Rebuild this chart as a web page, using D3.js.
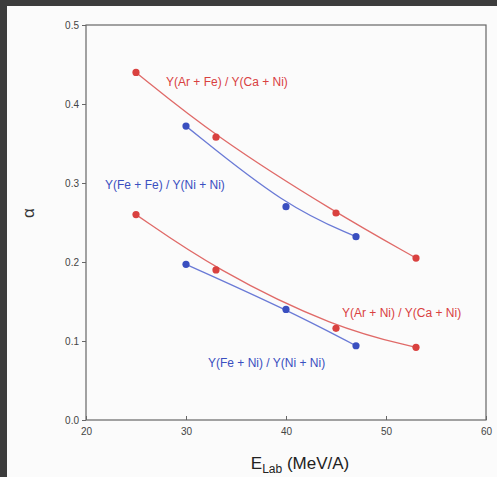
<!DOCTYPE html>
<html>
<head>
<meta charset="utf-8">
<script src="https://cdn.jsdelivr.net/npm/d3@7"></script>
<style>
  html, body { margin: 0; padding: 0; background: #3c3c3c; }
  svg { display: block; font-family: "Liberation Sans", Arial, sans-serif; }
</style>
</head>
<body>
<svg id="chart" width="497" height="477"></svg>
<script>
// energies (MeV/A) and ratio values
let arFeX = [25, 33, 45, 53]
let arFeY = [0.44, 0.358, 0.262, 0.205]
let feFeX = [30, 40, 47]
let feFeY = [0.372, 0.27, 0.232]
let arNiX = [25, 33, 45, 53]
let arNiY = [0.26, 0.19, 0.116, 0.092]
let feNiX = [30, 40, 47]
let feNiY = [0.197, 0.14, 0.094]

let xTicks = [20, 30, 40, 50, 60]
let yTicks = [0.0, 0.1, 0.2, 0.3, 0.4, 0.5]

let red = '#d9413f'
let blue = '#3a4fc0'

let svg = d3.select('#chart')

// white paper with dark scan edges at top and left
svg.append('rect')
    .attr('x', 7).attr('y', 6)
    .attr('width', 490).attr('height', 471)
    .attr('fill', '#fbfbfb')

let x = d3.scaleLinear().domain([20, 60]).range([86, 486])
let y = d3.scaleLinear().domain([0, 0.5]).range([420, 25])

// frame
svg.append('rect')
    .attr('x', x(20)).attr('y', y(0.5))
    .attr('width', x(60) - x(20)).attr('height', y(0) - y(0.5))
    .attr('fill', 'none')
    .attr('stroke', '#666')
    .attr('stroke-width', 1.2)

let xAxis = svg.append('g')
    .attr('transform', 'translate(0,' + y(0) + ')')
    .call(d3.axisBottom(x).tickValues(xTicks).tickSizeInner(-4).tickSizeOuter(0).tickPadding(8))
xAxis.select('.domain').remove()
xAxis.selectAll('line').attr('stroke', '#666')
xAxis.selectAll('text').attr('font-size', 10).attr('fill', '#444')
    .attr('font-family', '"Liberation Sans", Arial, sans-serif')

let yAxis = svg.append('g')
    .attr('transform', 'translate(' + x(20) + ',0)')
    .call(d3.axisLeft(y).tickValues(yTicks).tickFormat(d3.format('.1f')).tickSizeInner(4).tickSizeOuter(0).tickPadding(3))
yAxis.select('.domain').remove()
yAxis.selectAll('line').attr('stroke', '#666')
yAxis.selectAll('text').attr('font-size', 10).attr('fill', '#444')
    .attr('font-family', '"Liberation Sans", Arial, sans-serif')

// smooth fitted curves
let line = d3.line()
    .x((d) => x(d[0]))
    .y((d) => y(d[1]))
    .curve(d3.curveBasis)

let series = [
    { xs: arFeX, ys: arFeY, color: red, line: '#e06a68' },
    { xs: feFeX, ys: feFeY, color: blue, line: '#6a7ad6' },
    { xs: arNiX, ys: arNiY, color: red, line: '#e06a68' },
    { xs: feNiX, ys: feNiY, color: blue, line: '#6a7ad6' }
]

series.forEach((s) => {
    let pts = s.xs.map((v, i) => [v, s.ys[i]])
    svg.append('path')
        .attr('d', line(pts))
        .attr('fill', 'none')
        .attr('stroke', s.line)
        .attr('stroke-width', 1.3)
    svg.selectAll(null)
        .data(pts)
        .enter()
        .append('circle')
        .attr('cx', (d) => x(d[0]))
        .attr('cy', (d) => y(d[1]))
        .attr('r', 3.6)
        .attr('fill', s.color)
})

let labels = [
    { text: 'Y(Ar + Fe) / Y(Ca + Ni)', x: 166, y: 86, color: red },
    { text: 'Y(Fe + Fe) / Y(Ni + Ni)', x: 105, y: 189, color: blue },
    { text: 'Y(Ar + Ni) / Y(Ca + Ni)', x: 342, y: 317, color: red },
    { text: 'Y(Fe + Ni) / Y(Ni + Ni)', x: 208, y: 367, color: blue }
]

svg.selectAll(null)
    .data(labels)
    .enter()
    .append('text')
    .attr('x', (d) => d.x)
    .attr('y', (d) => d.y)
    .attr('fill', (d) => d.color)
    .attr('font-size', 12)
    .text((d) => d.text)

// axis titles
svg.append('text')
    .attr('transform', 'translate(34,213) rotate(-90)')
    .attr('text-anchor', 'middle')
    .attr('font-size', 17)
    .attr('fill', '#333')
    .text('α')

let xt = svg.append('text')
    .attr('x', 300)
    .attr('y', 469)
    .attr('text-anchor', 'middle')
    .attr('font-size', 17)
    .attr('fill', '#222')
xt.append('tspan').text('E')
xt.append('tspan').attr('font-size', 12).attr('dy', 4).text('Lab')
xt.append('tspan').attr('dy', -4).text(' (MeV/A)')
</script>
</body>
</html>
